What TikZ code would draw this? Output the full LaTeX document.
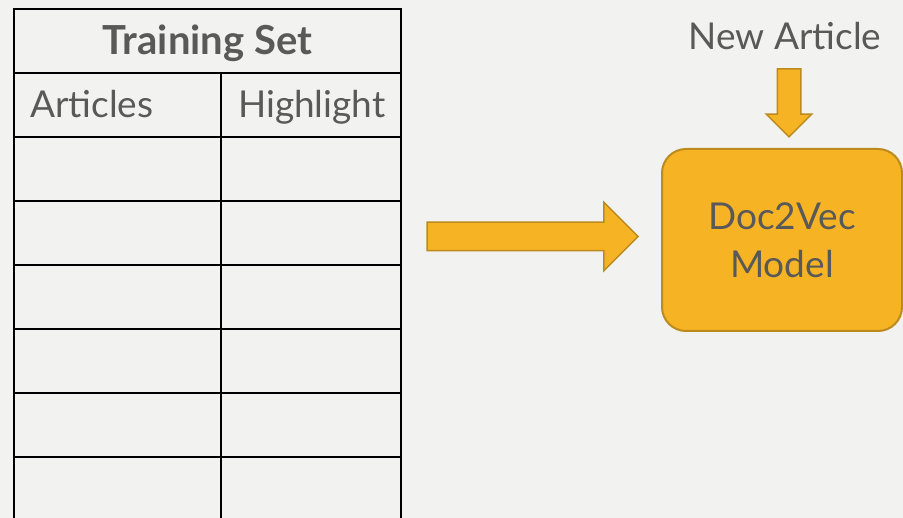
\documentclass[tikz,border=0pt]{standalone}
\usepackage{fontspec}
\setmainfont{Lato}
\usetikzlibrary{shapes.arrows}
\definecolor{bg}{HTML}{F2F2F0}
\definecolor{ink}{HTML}{595959}
\definecolor{gold}{HTML}{F6B324}
\definecolor{goldline}{HTML}{BD8A1E}
\tikzset{
  grid/.style={draw=black, line width=2pt},
  lab/.style={text=ink, font=\fontsize{37}{44}\selectfont, inner sep=0pt},
  blockarr/.style={single arrow, fill=gold, draw=goldline, line width=1.5pt, single arrow tip angle=90},
  model/.style={rounded corners=24pt, fill=gold, draw=goldline, line width=2pt, text=ink, align=center, font=\fontsize{37}{48}\selectfont, inner sep=0pt},
}

\begin{document}
\begin{tikzpicture}[x=1pt,y=-1pt]
  \useasboundingbox (0,0) rectangle (903,518);
  \fill[bg] (0,0) rectangle (903,518);
  \clip (0,0) rectangle (903,518);
  % table, runs off the bottom
  \def\xl{14} \def\xm{221} \def\xr{401}
  \draw[grid] (\xl,522) -- (\xl,9) -- (\xr,9) -- (\xr,522);
  \foreach \y in {73,137,...,457} \draw[grid] (\xl,\y) -- (\xr,\y);
  \draw[grid] (\xm,73) -- (\xm,522);
  \node[lab, font=\fontsize{40}{44}\selectfont\bfseries, anchor=base] (title) at (207.5,55) {Training Set};
  \node[lab, anchor=base west] (colart) at (30,118) {Articles};
  \node[lab, anchor=base west] (colhl) at (238,118) {Highlight};
  % model and arrows
  \node[model, minimum width=240pt, minimum height=182pt] (model) at (782,240) {Doc2Vec\\Model};
  \node[lab, anchor=base] (newart) at (785,50) {New Article};
  \node[blockarr, inner xsep=0pt, inner ysep=13.5pt, minimum height=211pt, minimum width=67pt, single arrow head extend=20pt] (toarr) at (525.5,236.5) {};
  \node[blockarr, inner xsep=11pt, inner ysep=0pt, shape border rotate=270, minimum height=68pt, minimum width=44pt, single arrow head extend=11pt] (downarr) at (789,97) {};
\end{tikzpicture}
\end{document}
